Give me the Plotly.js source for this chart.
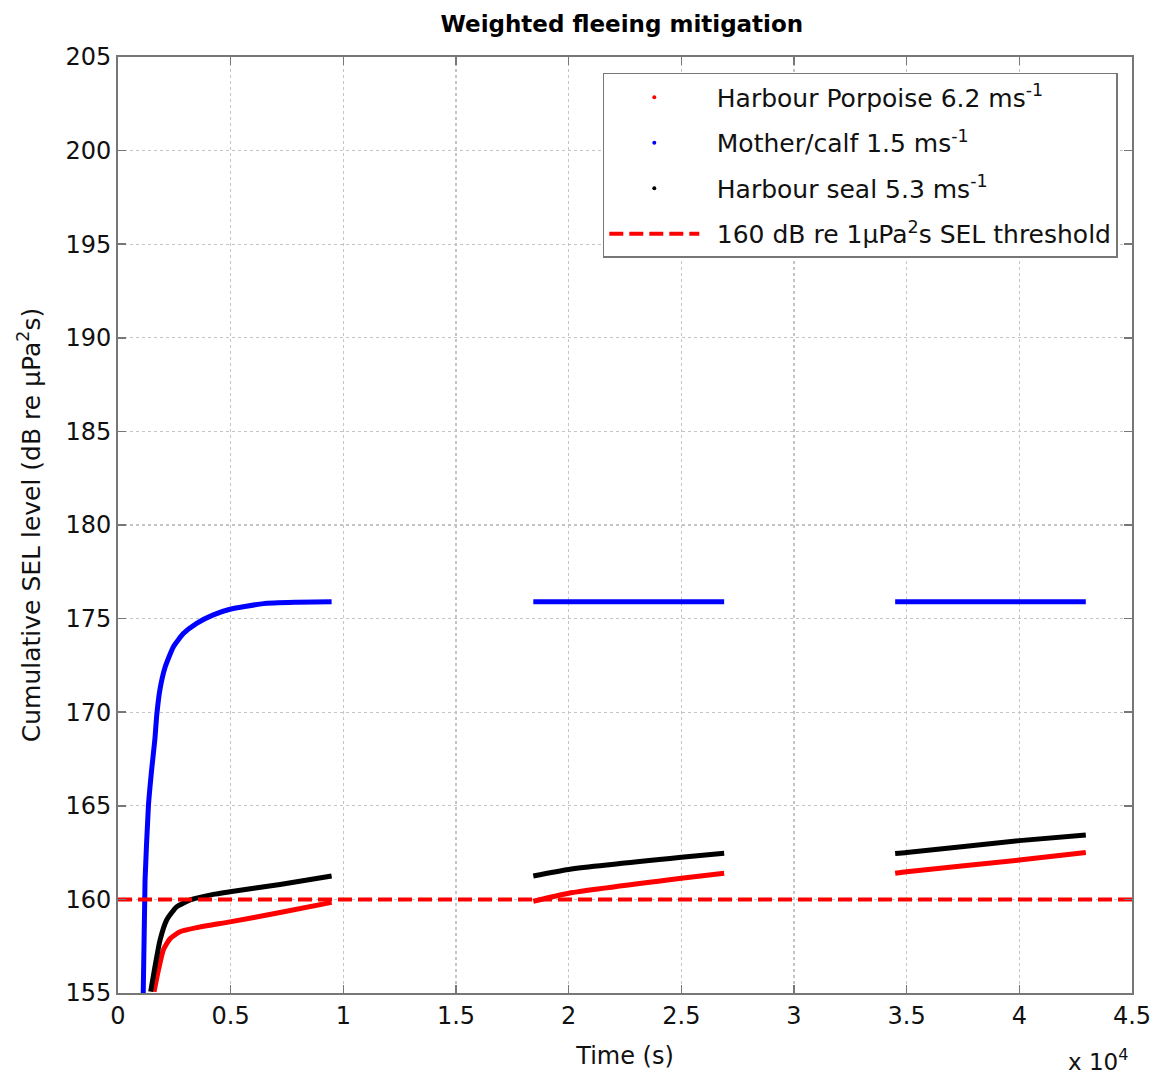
<!DOCTYPE html>
<html>
<head>
<meta charset="utf-8">
<script src="https://cdn.plot.ly/plotly-3.0.1.min.js"></script>
<style>html,body{margin:0;padding:0;background:#fff;}#chart{width:1158px;height:1079px;}</style>
</head>
<body>
<div id="chart"></div>
<script>
// ---- Data (time in seconds, SEL in dB) ; null separates exposure periods ----
const porpoiseT = [1600, 1790, 2010, 2310, 2750, 3490, 4970, 7190, 9480, null,
                   18430, 20000, 25000, 26900, null,
                   34490, 35000, 40000, 42950];
const porpoiseSEL = [155.07, 156.2, 157.3, 157.9, 158.27, 158.49, 158.8, 159.3, 159.84, null,
                     159.9, 160.33, 161.13, 161.4, null,
                     161.4, 161.48, 162.1, 162.5];

const calfT = [1120, 1200, 1350, 1500, 1640, 1720, 1860, 2090, 2460, 2900, 3490, 4230, 4970, 6450, 7930, 9480, null,
               18430, 26900, null,
               34490, 42950];
const calfSEL = [155.0, 161.0, 165.0, 167.0, 168.6, 169.85, 171.2, 172.4, 173.5, 174.2, 174.75, 175.2, 175.5, 175.8, 175.87, 175.9, null,
                 175.9, 175.9, null,
                 175.9, 175.9];

const sealT = [1450, 1640, 1860, 2160, 2600, 3200, 4230, 4970, 7190, 9480, null,
               18430, 20000, 25000, 26900, null,
               34490, 35000, 40000, 42950];
const sealSEL = [155.07, 156.4, 157.8, 158.9, 159.6, 159.97, 160.27, 160.41, 160.8, 161.25, null,
                 161.25, 161.6, 162.25, 162.46, null,
                 162.45, 162.5, 163.14, 163.44];

const thresholdT = [0, 45000];
const thresholdSEL = [160, 160];

const xTickVals = [0, 5000, 10000, 15000, 20000, 25000, 30000, 35000, 40000, 45000];
const xTickText = ['0', '0.5', '1', '1.5', '2', '2.5', '3', '3.5', '4', '4.5'];
const yTickVals = [155, 160, 165, 170, 175, 180, 185, 190, 195, 200, 205];

const names = ['Harbour Porpoise 6.2 ms<sup>-1</sup>', 'Mother/calf 1.5 ms<sup>-1</sup>',
               'Harbour seal 5.3 ms<sup>-1</sup>', '160 dB re 1\u03bcPa<sup>2</sup>s SEL threshold'];

const FONT = 'DejaVu Sans, Liberation Sans, Arial, sans-serif';
const GAP = '\u2002';

const lineBase = {shape: 'spline', smoothing: 0.5};
const traces = [
  {x: porpoiseT, y: porpoiseSEL, mode: 'lines', line: Object.assign({color: '#ff0000', width: 5}, lineBase), showlegend: false, connectgaps: false},
  {x: calfT, y: calfSEL, mode: 'lines', line: Object.assign({color: '#0000ff', width: 5}, lineBase), showlegend: false, connectgaps: false},
  {x: sealT, y: sealSEL, mode: 'lines', line: Object.assign({color: '#000000', width: 5}, lineBase), showlegend: false, connectgaps: false},
  {x: thresholdT, y: thresholdSEL, mode: 'lines', line: {color: '#ff0000', width: 4, dash: '14px,6px'}, name: GAP + names[3], legendgroup: 'd', legendrank: 4},
  // legend entries (dot markers)
  {x: [null], y: [null], mode: 'markers', marker: {color: '#ff0000', size: 4}, name: GAP + names[0], legendgroup: 'a', legendrank: 1},
  {x: [null], y: [null], mode: 'markers', marker: {color: '#0000ff', size: 4}, name: GAP + names[1], legendgroup: 'b', legendrank: 2},
  {x: [null], y: [null], mode: 'markers', marker: {color: '#000000', size: 4}, name: GAP + names[2], legendgroup: 'c', legendrank: 3}
];

const axisCommon = {
  showline: true, linecolor: '#777', linewidth: 2, mirror: 'ticks',
  ticks: 'inside', ticklen: 8, tickwidth: 1.5, tickcolor: '#777',
  showgrid: true, gridcolor: '#c4c4c4', griddash: 'dot', gridwidth: 1.2,
  zeroline: false,
  tickfont: {family: FONT, size: 24, color: '#111'}
};

const layout = {
  width: 1158, height: 1079,
  margin: {l: 118, r: 26, t: 57, b: 86},
  paper_bgcolor: '#fff', plot_bgcolor: '#fff',
  font: {family: FONT, color: '#111'},
  title: {text: '<b>Weighted fleeing mitigation</b>', font: {family: FONT, size: 23, color: '#000'},
          x: 0.537, xanchor: 'center', y: 0.978, yanchor: 'middle'},
  xaxis: Object.assign({}, axisCommon, {
    range: [0, 45000], tickvals: xTickVals, ticktext: xTickText,
    title: {text: 'Time (s)', font: {family: FONT, size: 24, color: '#111'}, standoff: 18}
  }),
  yaxis: Object.assign({}, axisCommon, {
    range: [155, 205], tickvals: yTickVals,
    title: {text: 'Cumulative SEL level (dB re \u03bcPa<sup>2</sup>s)', font: {family: FONT, size: 25, color: '#111'}, standoff: 18}
  }),
  legend: {
    x: 0.986, xanchor: 'right', y: 0.983, yanchor: 'top',
    bgcolor: '#fff', bordercolor: '#777', borderwidth: 1.5,
    font: {family: FONT, size: 25, color: '#111'},
    traceorder: 'grouped', tracegroupgap: 10,
    itemwidth: 90
  },
  annotations: [
    {text: 'x 10<sup>4</sup>', xref: 'paper', yref: 'paper', x: 0.998, xanchor: 'right', y: -0.072, yanchor: 'middle',
     showarrow: false, font: {family: FONT, size: 23, color: '#111'}}
  ],
  showlegend: true
};

Plotly.newPlot('chart', traces, layout, {displayModeBar: false, staticPlot: true});
</script>
</body>
</html>
